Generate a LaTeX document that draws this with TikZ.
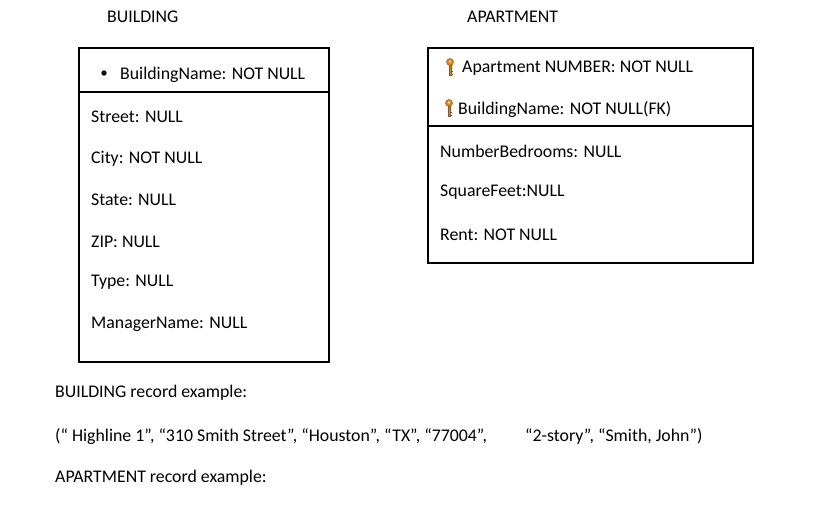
\documentclass[tikz,border=0pt]{standalone}
\usepackage{fontspec}
\setmainfont{Carlito}
\begin{document}
\begin{tikzpicture}[x=1pt,y=-1pt,
  t/.style={anchor=west,inner sep=0pt,yshift=-1.5pt,font=\fontsize{17.8}{20}\selectfont},
  box/.style={draw,line width=1.2pt},
  key/.pic={\fill[orange!80!brown,draw=brown!70!black,line width=0.5pt] (0,-4) circle (3.5);
            \fill[white] (0,-4.5) circle (1.2);
            \draw[brown!70!black,fill=orange!80!brown,line width=0.5pt] (-1,-1) rectangle (1,9);
            \draw[brown!70!black,line width=1pt] (1,5)--(3,5) (1,8)--(3,8);}]
\useasboundingbox (0,0) rectangle (831,512);
\node[t] (bt) at (107,15) {BUILDING};
\node[t] (at) at (467,15) {APARTMENT};
% building
\draw[box] (79,48) rectangle (329,362);
\draw[box] (79,92) -- (329,92);
\fill (104,73) circle (2.7);
\node[t] (b0) at (120,73) {BuildingName: NOT NULL};
\node[t] (b1) at (91,115) {Street: NULL};
\node[t] (b2) at (91,157) {City: NOT NULL};
\node[t] (b3) at (91,198) {State: NULL};
\node[t] (b4) at (91,240) {ZIP: NULL};
\node[t] (b5) at (91,281) {Type: NULL};
\node[t] (b6) at (91,323) {ManagerName: NULL};
% apartment
\draw[box] (428,48) rectangle (753,263);
\draw[box] (428,126) -- (753,126);
\pic at (450,66) {key};
\node[t] (a0) at (462,67) {Apartment NUMBER: NOT NULL};
\pic at (449,107) {key};
\node[t] (a1) at (458,108) {BuildingName: NOT NULL(FK)};
\node[t] (a2) at (440,150) {NumberBedrooms: NULL};
\node[t] (a3) at (440,191) {SquareFeet:NULL};
\node[t] (a4) at (440,233) {Rent: NOT NULL};
% bottom
\node[t] (r1) at (55,391) {BUILDING record example:};
\node[t] (r2) at (55,435) {(“ Highline 1”, “310 Smith Street”, “Houston”, “TX”, “77004”,};
\node[t] (r3) at (525,435) {“2-story”, “Smith, John”)};
\node[t] (r4) at (55,476) {APARTMENT record example:};
\end{tikzpicture}
\end{document}
